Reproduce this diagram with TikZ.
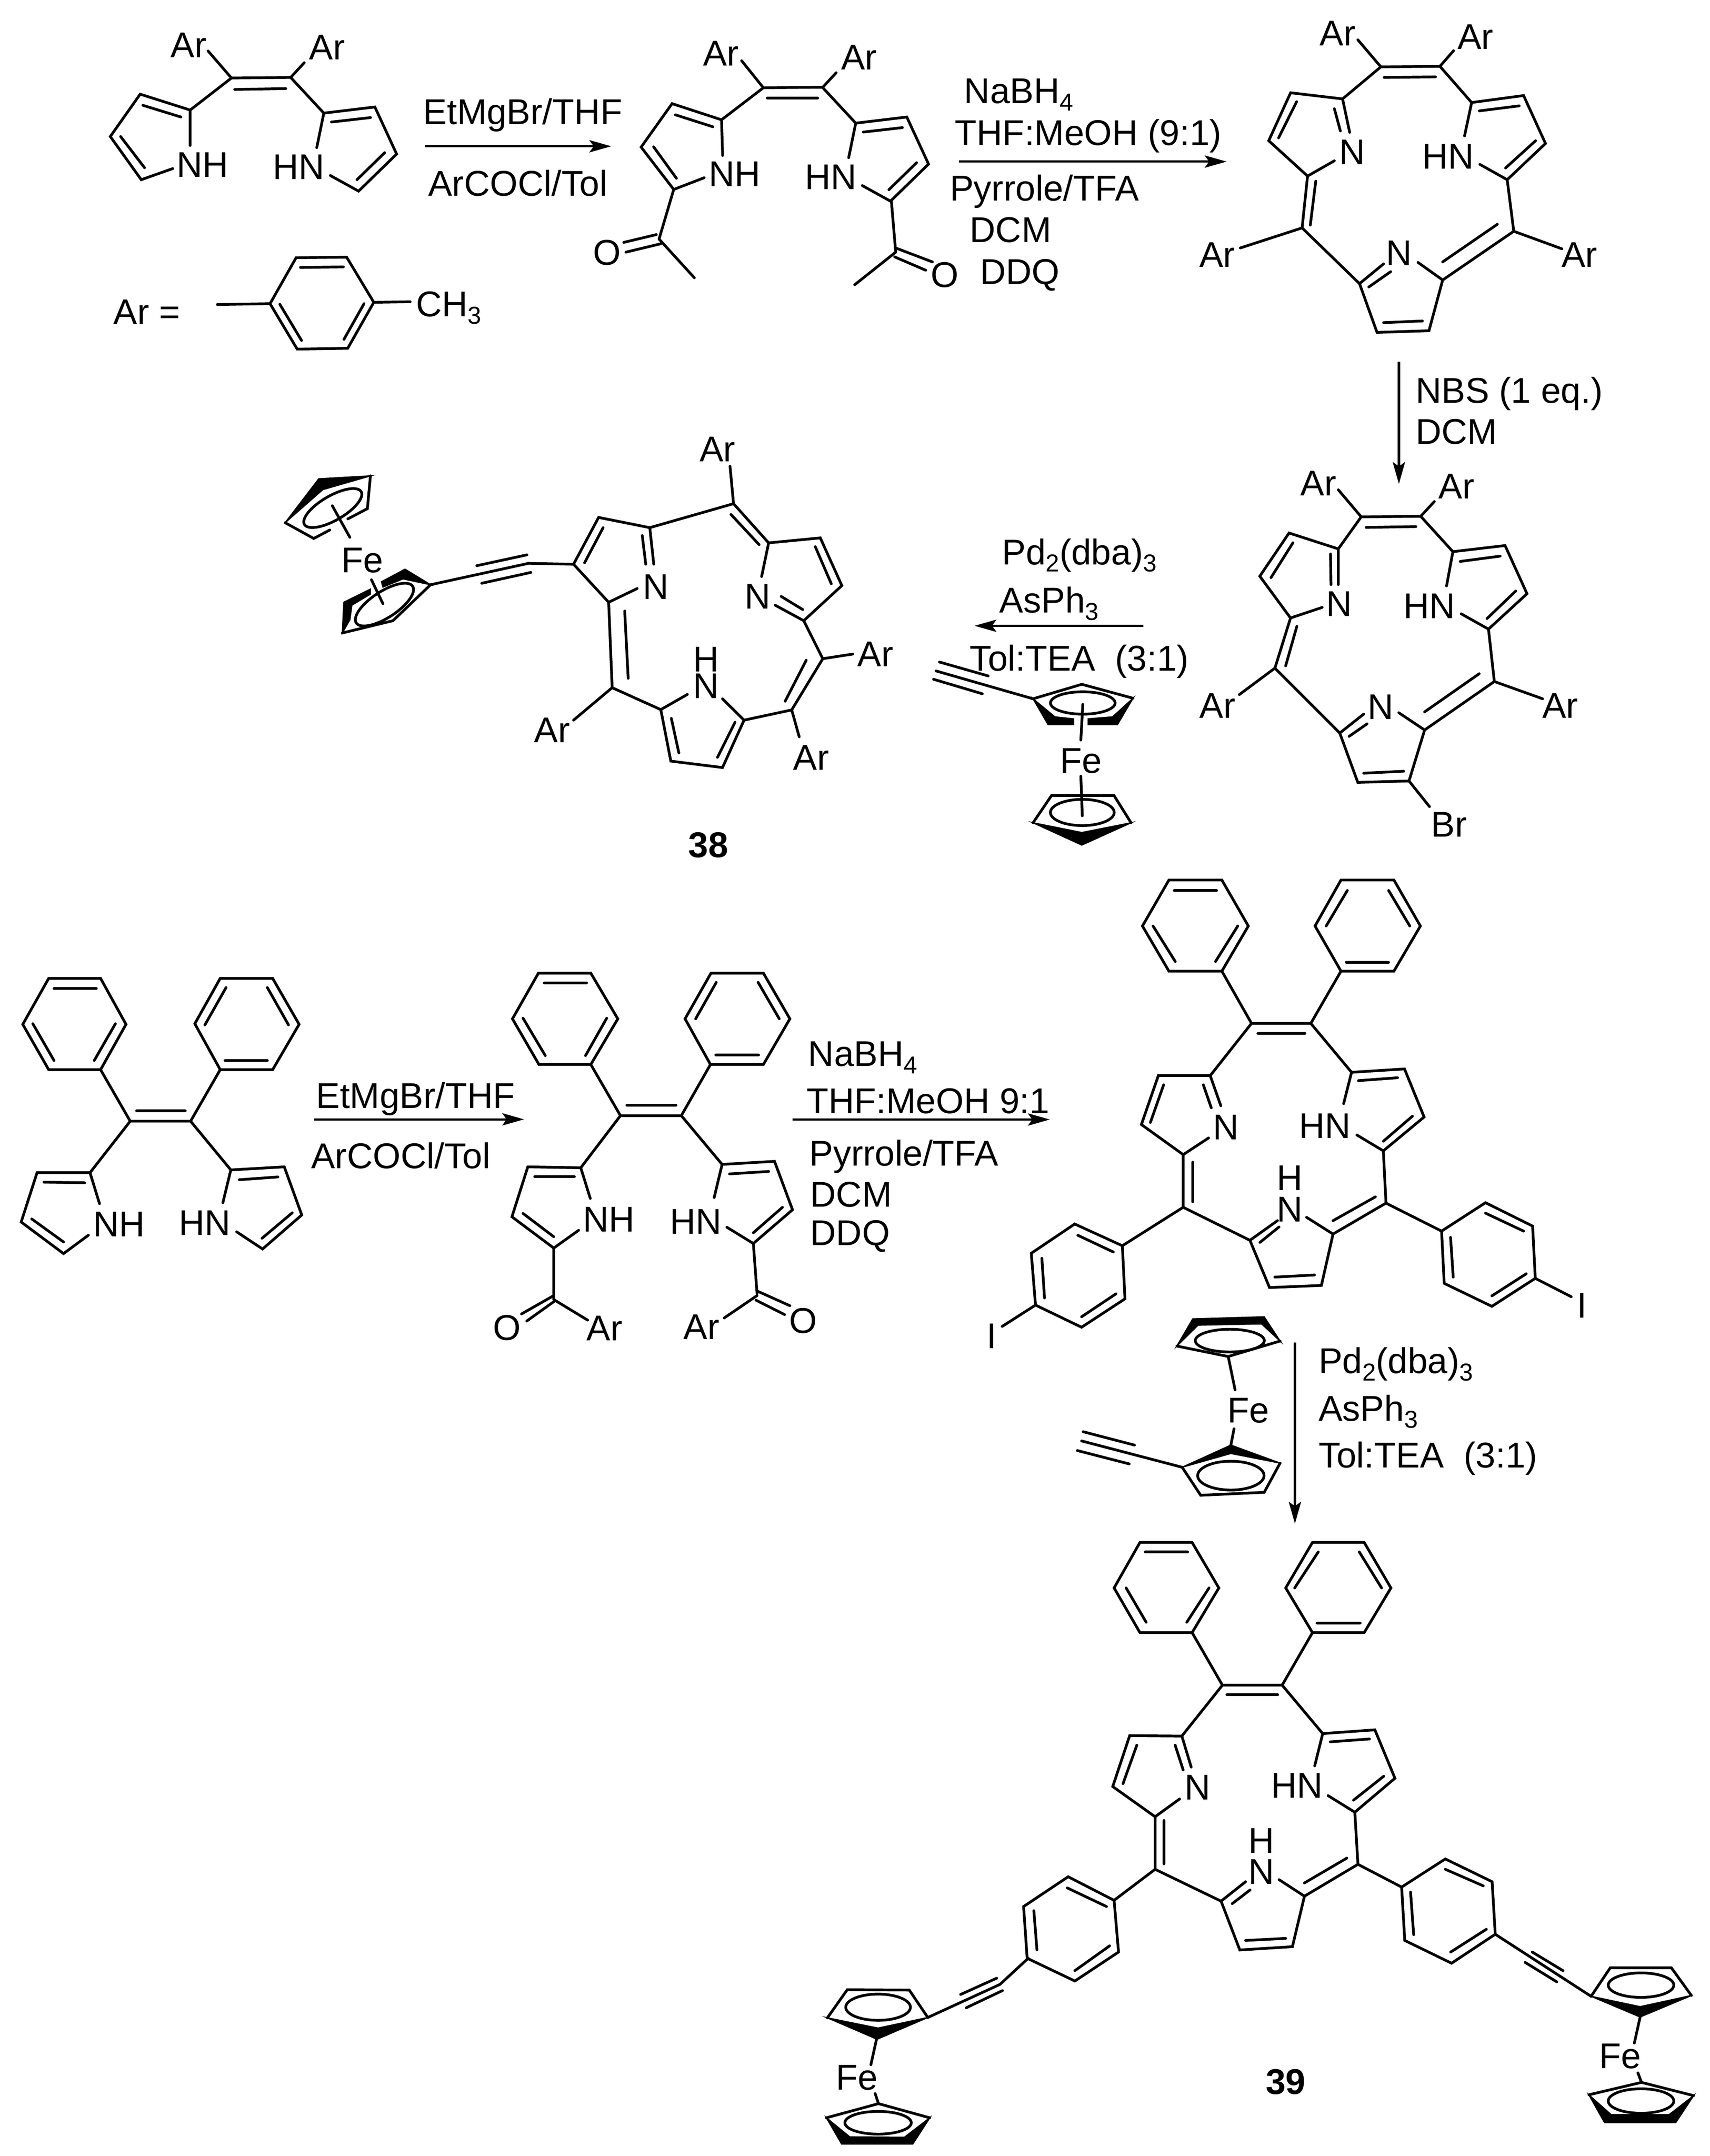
\documentclass[tikz,border=0pt]{standalone}
\usepackage{fontspec}
\setmainfont{Liberation Sans}
\usetikzlibrary{arrows.meta}
\newcounter{lb}
\newcommand\sub[1]{\raisebox{-4.2pt}{\fontsize{14}{15}\selectfont #1}}
\newcommand\Lb[3][]{\stepcounter{lb}\node[lab,#1] (t\thelb) at (#2) {#3};}
\newcommand\elli[4]{\draw[bond,rotate around={#4:(#1)}] (#1) ellipse [x radius=#2pt,y radius=#3pt];}
\tikzset{
 bond/.style={line width=1.55pt,line cap=round,line join=miter,miter limit=6,black},
 wdg/.style={fill=black,draw=black,line width=.7pt,line join=miter},
 arr/.style={line width=1.3pt,-{Stealth[length=12.5pt,width=7pt,inset=2.5pt]}},
 lab/.style={inner sep=0pt,text height=14.7pt,text depth=0pt,font=\fontsize{20.5}{24}\selectfont},
 bf/.style={font=\fontsize{20.5}{24}\selectfont\bfseries},
}
\begin{document}
\begin{tikzpicture}
\fill[white] (0pt,0pt) rectangle (978.25pt,-1233.75pt);
\useasboundingbox (0pt,0pt) rectangle (978.25pt,-1233.75pt);

% ---------- Zoom 1 frame: starting pyrrole compound, Ar definition, left half of diketone
\begin{scope}[x=0.3109pt,y=-0.15944pt]
\Lb{347,160}{Ar}\Lb{602,168}{Ar}
\draw[bond] (383,183)--(426,280) (560,225)--(535,278) (426,280)--(535,278) (432,321)--(526,318);
\draw[bond] (426,280)--(350,395) (318,605)--(260,645)--(203,490)--(258,338)--(350,395)--(350,522) (333,420)--(263,378) (222,490)--(266,602);
\draw[bond] (535,278)--(596,406) (583,530)--(596,406)--(690,384)--(730,553)--(660,686)--(608,630) (610,438)--(682,422) (708,548)--(657,645);
\Lb{373,590}{NH}\Lb{550,598}{HN}
\draw[arr] (782,525)--(1125,525);
\Lb{962,400}{EtMgBr/THF}\Lb{953,657}{ArCOCl/Tol}
\Lb{270,1118}{Ar =}
\draw[bond] (400,1093)--(497,1090) (497,1090)--(545,925)--(638,923)--(688,1085)--(640,1250)--(547,1253)--cycle (553,960)--(632,958) (515,1092)--(555,1222) (670,1090)--(633,1218) (688,1085)--(755,1083);
\Lb[anchor=west]{765,1090}{CH\sub{3}}
\Lb{1327,190}{Ar}\Lb{1581,204}{Ar}
\draw[bond] (1365,218)--(1405,315) (1405,315)--(1515,313) (1412,352)--(1505,352) (1539,261)--(1514,314);
\draw[bond] (1405,315)--(1328,430) (1296,638)--(1240,680)--(1180,528)--(1237,372)--(1328,430)--(1330,558) (1312,455)--(1243,412) (1203,527)--(1245,640);
\draw[bond] (1514,314)--(1575,442) (1562,566)--(1575,442)--(1669,420)--(1709,589)--(1639,722)--(1587,666) (1589,474)--(1661,458) (1687,584)--(1636,681);
\Lb{1352,622}{NH}\Lb{1529,634}{HN}
\draw[bond] (1240,680)--(1213,858) (1148,870)--(1208,842) (1152,905)--(1216,875) (1213,858)--(1278,997);
\Lb{1117,905}{O}
\end{scope}

% ---------- Zoom 2 frame: first porphyrin
\begin{scope}[shift={(487.5pt,0pt)},x=0.31298pt,y=-0.15944pt]
\draw[bond] (72,720)--(80,905)--(5,1022) (80,890)--(147,940) (78,922)--(135,970);
\Lb{170,985}{O}
\draw[arr] (196,580)--(685,580);
\Lb{305,325}{NaBH\sub{4}}\Lb{432,475}{THF:MeOH (9:1)}\Lb{352,674}{Pyrrole/TFA}\Lb{290,824}{DCM}\Lb{307,974}{DDQ}
\Lb{888,117}{Ar}\Lb{1140,130}{Ar}
\draw[bond] (925,143)--(967,240) (1100,182)--(1075,238) (967,240)--(1075,238) (973,278)--(1067,276);
\draw[bond] (967,240)--(897,355) (882,577)--(833,632)--(762,505)--(802,333)--(897,355)--(910,475) (882,390)--(893,470) (813,365)--(780,495);
\draw[bond] (833,632)--(823,818) (848,650)--(838,808) (823,818)--(710,890) (823,818)--(928,1018);
\draw[bond] (972,947)--(928,1018)--(960,1193)--(1055,1187)--(1080,1005)--(1035,942) (945,1030)--(985,975) (972,1158)--(1043,1152);
\draw[bond] (1080,1005)--(1210,830) (1080,940)--(1180,805) (1210,830)--(1298,893) (1210,830)--(1198,645);
\draw[bond] (1148,590)--(1198,645)--(1268,515)--(1228,343)--(1133,368)--(1120,488) (1195,603)--(1250,505) (1147,398)--(1220,380) (1075,238)--(1133,368);
\Lb{915,545}{N}\Lb{1090,560}{HN}\Lb{1000,907}{N}\Lb{668,912}{Ar}\Lb{1330,912}{Ar}
\draw[arr] (1000,1298)--(1000,1737);
\Lb[anchor=west]{1030,1400}{NBS (1 eq.)}\Lb[anchor=west]{1030,1547}{DCM}
\end{scope}

% ---------- Zoom 3 frame: compound 38
\begin{scope}[shift={(125pt,-237.5pt)},x=0.28699pt,y=-0.16741pt]
\Lb{995,115}{Ar}
\draw[bond] (1020,175)--(1027,303) (1027,303)--(860,385) (1027,303)--(1097,437) (1022,340)--(1078,443);
\draw[bond] (835,593)--(778,640)--(708,510)--(758,350)--(860,385)--(868,510) (845,412)--(852,510) (767,385)--(730,505);
\draw[bond] (708,510)--(618,507)--(423,580) (515,515)--(615,478) (525,575)--(623,538);
\Lb{287,495}{Fe}\Lb{872,585}{N}
% lower Cp
\fill[wdg] (423,580)--(372,527)--(325,570)--(328,588)--(368,560)--cycle;
\fill[wdg] (303,595)--(250,640)--(247,745)--(262,700)--(266,650)--(303,612)--cycle;
\draw[bond] (247,745)--(348,703)--(423,580);
\elli{331,648}{19.25}{7.5}{33}
\draw[bond] (305,563)--(328,645);
% upper Cp
\fill[wdg] (303,208)--(200,218)--(133,368)--(208,255)--cycle;
\draw[bond] (133,368)--(190,422)--(222,393) (258,355)--(297,320)--(303,208);
\elli{228,318}{18.75}{7}{30}
\draw[bond] (227,310)--(262,418);
\draw[bond] (1083,552)--(1097,437)--(1200,420)--(1243,583)--(1167,703)--(1110,650) (1190,450)--(1222,577) (1122,620)--(1165,665);
\Lb{1075,618}{N}
\draw[bond] (1167,703)--(1205,833)--(1265,817) (1205,833)--(1143,1008) (1172,838)--(1130,978) (1143,1008)--(1158,1100) (1143,1008)--(1048,1043);
\Lb{1310,815}{Ar}\Lb{1182,1170}{Ar}
\draw[bond] (1005,970)--(1048,1043)--(1005,1205)--(902,1183)--(882,1007)--(935,955) (1030,1050)--(995,1170) (903,1037)--(918,1155);
\Lb{972,925}{N}\Lb{972,833}{H}
\draw[bond] (882,1007)--(785,932)--(778,640) (817,900)--(810,670) (785,932)--(708,1043);
\Lb{665,1075}{Ar}
\Lb[bf]{977,1468}{38}
\end{scope}

% ---------- Zoom 4 frame: bromo porphyrin and reagents
\begin{scope}[shift={(525pt,-250pt)},x=0.27902pt,y=-0.15944pt]
\Lb{822,165}{Ar}\Lb{1105,175}{Ar}
\draw[bond] (863,190)--(910,287) (1060,232)--(1032,285) (910,287)--(1032,285) (920,325)--(1022,322);
\draw[bond] (910,287)--(863,402) (830,612)--(765,650)--(702,500)--(762,345)--(863,402)--(863,530) (847,420)--(848,530) (770,380)--(725,505);
\Lb{865,597}{N}
\draw[bond] (765,650)--(733,830) (778,680)--(755,822) (733,830)--(660,925) (733,830)--(866,1063);
\Lb{615,963}{Ar}
\draw[bond] (915,995)--(866,1063)--(903,1240)--(1008,1235)--(1040,1052)--(987,990) (885,1075)--(922,1030) (915,1207)--(997,1200) (1008,1235)--(1050,1327);
\Lb{950,967}{N}\Lb{1090,1390}{Br}
\draw[bond] (1040,1052)--(1183,878) (1040,987)--(1152,850) (1183,878)--(1282,940) (1183,878)--(1171,690);
\Lb{1318,963}{Ar}
\draw[bond] (1115,635)--(1171,690)--(1250,563)--(1205,390)--(1098,412)--(1085,535) (1168,652)--(1227,553) (1113,447)--(1195,428) (1032,285)--(1098,412);
\Lb{1050,605}{HN}
\Lb{332,412}{Pd\sub{2}(dba)\sub{3}}\Lb{270,585}{AsPh\sub{3}}
\draw[arr] (463,678)--(117,678);
\Lb{332,793}{Tol:TEA\ \ (3:1)}
% ferrocene
\draw[bond] (237,940)--(38,840) (145,858)--(45,808) (133,922)--(33,870);
\draw[bond] (237,940)--(337,888)--(442,938);
\fill[wdg] (237,940)--(268,1033)--(320,1033)--(320,1012)--(282,1005)--cycle;
\fill[wdg] (442,938)--(410,1033)--(350,1033)--(350,1012)--(400,1005)--cycle;
\elli{339,955}{18.5}{6.4}{0}
\draw[bond] (339,960)--(335,1088);
\Lb{335,1160}{Fe}
\draw[bond] (335,1218)--(338,1360);
\draw[bond] (237,1385)--(275,1287)--(403,1287)--(438,1385);
\fill[wdg] (438,1385)--(337,1465)--(237,1385)--(337,1420)--cycle;
\elli{338,1348}{18.25}{7.5}{0}
\end{scope}

% ---------- Zoom 5 frame: second starting material and diketone
\begin{scope}[shift={(0pt,-512.5pt)},x=0.30293pt,y=-0.17538pt]
\draw[bond] (190,270)--(92,270)--(43,420)--(92,568)--(190,568)--(238,420)--cycle (102,303)--(182,303) (62,418)--(102,538) (218,418)--(178,538);
\draw[bond] (416,270)--(515,270)--(565,420)--(515,568)--(416,568)--(368,418)--cycle (427,300)--(387,422) (505,300)--(545,422) (425,538)--(505,538);
\draw[bond] (190,568)--(246,736) (416,568)--(360,736) (246,736)--(360,736) (258,702)--(350,702) (246,736)--(170,904) (360,736)--(436,895);
\draw[bond] (167,1108)--(120,1168)--(40,1065)--(70,904)--(170,904)--(188,1005) (160,937)--(83,935) (60,1055)--(120,1130);
\draw[bond] (421,1002)--(436,895)--(537,885)--(570,1042)--(496,1153)--(447,1097) (452,927)--(525,918) (552,1035)--(495,1118);
\Lb{225,1070}{NH}\Lb{387,1067}{HN}
\draw[arr] (593,730)--(990,730);
\Lb{785,652}{EtMgBr/THF}\Lb{757,848}{ArCOCl/Tol}
\draw[bond] (1116,253)--(1017,253)--(968,402)--(1018,551)--(1116,551)--(1167,402)--cycle (1028,285)--(1108,285) (988,400)--(1030,522) (1146,400)--(1106,522);
\draw[bond] (1343,253)--(1442,253)--(1492,402)--(1442,551)--(1342,551)--(1294,402)--cycle (1353,283)--(1314,402) (1432,283)--(1472,402) (1352,520)--(1433,520);
\draw[bond] (1116,551)--(1172,718) (1342,551)--(1287,718) (1172,718)--(1287,718) (1184,684)--(1277,684) (1172,718)--(1097,888) (1287,718)--(1364,877);
\draw[bond] (1093,1092)--(1046,1150)--(967,1048)--(997,885)--(1097,888)--(1115,988) (1085,917)--(1010,917) (988,1037)--(1046,1113);
\draw[bond] (1349,985)--(1364,877)--(1463,867)--(1497,1025)--(1423,1135)--(1373,1082) (1378,908)--(1452,900) (1478,1017)--(1423,1100);
\Lb{1150,1055}{NH}\Lb{1314,1062}{HN}
\draw[bond] (1046,1150)--(1046,1318) (1046,1305)--(985,1365) (1046,1325)--(995,1388) (1046,1318)--(1110,1385);
\Lb{958,1408}{O}\Lb{1142,1410}{Ar}
\draw[bond] (1423,1135)--(1430,1298) (1430,1290)--(1492,1338) (1428,1320)--(1482,1367) (1430,1305)--(1368,1378);
\Lb{1517,1385}{O}\Lb{1325,1405}{Ar}
\end{scope}

% ---------- Zoom 6 frame: diiodo porphyrin, ferrocene reagent
\begin{scope}[shift={(475pt,-500pt)},x=0.30293pt,y=-0.23916pt]
\draw[arr] (-71,588)--(415,588);
\Lb[anchor=west]{-42,430}{NaBH\sub{4}}\Lb[anchor=west]{-45,543}{THF:MeOH 9:1}\Lb[anchor=west]{-40,668}{Pyrrole/TFA}\Lb[anchor=west]{-38,766}{DCM}\Lb[anchor=west]{-38,858}{DDQ}
\draw[bond] (740,15)--(640,15)--(590,125)--(640,233)--(740,233)--(790,125)--cycle (650,40)--(730,40) (610,125)--(652,210) (770,125)--(728,210);
\draw[bond] (965,15)--(1065,15)--(1115,125)--(1065,233)--(965,233)--(916,125)--cycle (977,40)--(937,125) (1055,40)--(1095,125) (975,212)--(1055,212);
\draw[bond] (740,233)--(796,358) (965,233)--(908,358) (796,358)--(908,358) (808,382)--(897,382) (796,358)--(718,483) (908,358)--(985,475);
\draw[bond] (715,632)--(667,672)--(588,600)--(620,483)--(718,483)--(738,555) (705,505)--(720,560) (630,505)--(605,595);
\Lb{748,605}{N}
\draw[bond] (970,550)--(985,475)--(1085,467)--(1122,582)--(1045,663)--(995,625) (998,495)--(1072,488) (1100,580)--(1045,640);
\Lb{935,602}{HN}
\draw[bond] (667,672)--(667,798) (685,690)--(685,785) (667,798)--(552,890);
\draw[bond] (552,890)--(462,838)--(380,908)--(388,1032)--(475,1085)--(557,1017)--cycle (468,865)--(535,905) (400,920)--(405,1015) (475,1060)--(540,1005) (388,1032)--(325,1083);
\Lb{305,1105}{I}
\draw[bond] (667,798)--(793,877) (845,830)--(793,877)--(830,990)--(928,985)--(950,862)--(900,822) (812,882)--(848,845) (840,965)--(915,960);
\Lb{868,802}{N}\Lb{868,727}{H}
\draw[bond] (950,862)--(1050,788) (950,830)--(1030,773) (1050,788)--(1045,663) (1050,788)--(1155,855);
\draw[bond] (1155,855)--(1238,787)--(1327,843)--(1332,968)--(1250,1035)--(1160,980)--cycle (1238,812)--(1310,855) (1172,870)--(1177,965) (1250,1010)--(1315,957) (1332,968)--(1400,1012);
\Lb{1420,1032}{I}
% ferrocene
\fill[wdg] (655,1130)--(685,1065)--(820,1060)--(850,1118)--(815,1077)--(695,1080)--cycle;
\draw[bond] (655,1130)--(752,1155)--(850,1118) (752,1155)--(765,1235) (763,1328)--(757,1367);
\elli{755,1117}{19.75}{6.5}{0}
\Lb{790,1283}{Fe}
\fill[wdg] (665,1420)--(757,1367)--(850,1410)--(757,1387)--cycle;
\draw[bond] (665,1420)--(700,1487)--(820,1480)--(850,1410);
\elli{757,1440}{19}{8.25}{0}
\draw[bond] (665,1420)--(475,1357) (575,1367)--(478,1335) (565,1412)--(467,1380);
\draw[arr] (878,1122)--(878,1555);
\Lb[anchor=west]{922,1165}{Pd\sub{2}(dba)\sub{3}}\Lb[anchor=west]{922,1278}{AsPh\sub{3}}\Lb[anchor=west]{922,1390}{Tol:TEA\ \ (3:1)}
\end{scope}

% ---------- Zoom 7 frame: compound 39
\begin{scope}[shift={(575pt,-862.5pt)},x=0.2551pt,y=-0.23677pt]
\draw[bond] (420,85)--(303,85)--(245,195)--(303,303)--(420,303)--(480,195)--cycle (315,108)--(410,108) (272,195)--(317,278) (458,195)--(408,278);
\draw[bond] (690,85)--(806,85)--(866,195)--(806,303)--(690,303)--(630,195)--cycle (703,108)--(650,195) (795,108)--(845,195) (700,280)--(797,280);
\draw[bond] (420,303)--(488,430) (690,303)--(622,430) (488,430)--(622,430) (498,453)--(612,453) (488,430)--(397,553) (622,430)--(713,547);
\draw[bond] (392,705)--(337,748)--(242,675)--(280,552)--(397,553)--(418,628) (382,575)--(400,635) (296,575)--(265,668);
\Lb{432,676}{N}
\draw[bond] (695,625)--(713,547)--(830,538)--(875,655)--(785,737)--(725,697) (730,567)--(818,560) (850,650)--(782,708);
\Lb{655,672}{HN}
\draw[bond] (337,748)--(337,875) (357,757)--(357,862) (337,875)--(245,950);
\draw[bond] (245,950)--(142,893)--(42,965)--(50,1090)--(157,1145)--(255,1075)--cycle (140,920)--(228,965) (65,975)--(72,1070) (157,1120)--(235,1060);
\draw[bond] (337,875)--(485,952) (540,905)--(485,952)--(527,1070)--(645,1062)--(672,940)--(615,900) (510,958)--(550,925) (540,1047)--(630,1042);
\Lb{575,880}{N}\Lb{575,805}{H}
\draw[bond] (672,940)--(792,863) (672,908)--(767,848) (792,863)--(785,737) (792,863)--(890,918);
\draw[bond] (890,918)--(988,850)--(1093,905)--(1100,1032)--(1002,1102)--(897,1047)--cycle (988,875)--(1073,915) (910,930)--(917,1033) (1000,1075)--(1080,1020);
\draw[bond] (1100,1032)--(1315,1182) (1183,1075)--(1252,1120) (1167,1100)--(1238,1147);
\draw[bond] (1315,1182)--(1358,1113)--(1495,1113)--(1540,1180);
\fill[wdg] (1315,1182)--(1425,1232)--(1540,1180)--(1425,1207)--cycle;
\elli{1427,1155}{18.75}{7}{0}
\draw[bond] (1425,1232)--(1412,1295) (1420,1367)--(1428,1390);
\Lb{1380,1325}{Fe}
\draw[bond] (1310,1420)--(1428,1390)--(1545,1422);
\fill[wdg] (1310,1420)--(1345,1487)--(1505,1487)--(1545,1422)--(1490,1468)--(1360,1468)--cycle;
\elli{1427,1435}{18.75}{7}{0}
\Lb[bf]{630,1387}{39}
\end{scope}

% ---------- Zoom 8 frame: left ferrocene of 39
\begin{scope}[shift={(450pt,-1075pt)},x=0.11161pt,y=-0.10124pt]
\draw[bond] (1240,450)--(1095,598)--(725,785) (1078,563)--(893,655) (1108,633)--(922,730);
\draw[bond] (725,785)--(630,630)--(312,628)--(210,787);
\fill[wdg] (210,787)--(465,908)--(725,785)--(470,845)--cycle;
\elli{470,727}{18.5}{7.5}{0}
\draw[bond] (462,908)--(433,1052) (455,1215)--(472,1272);
\Lb{362,1120}{Fe}
\draw[bond] (205,1352)--(472,1272)--(735,1352);
\fill[wdg] (205,1352)--(283,1500)--(648,1500)--(735,1352)--(605,1462)--(325,1460)--cycle;
\elli{470,1380}{19}{6.5}{0}
\end{scope}
\end{tikzpicture}
\end{document}
